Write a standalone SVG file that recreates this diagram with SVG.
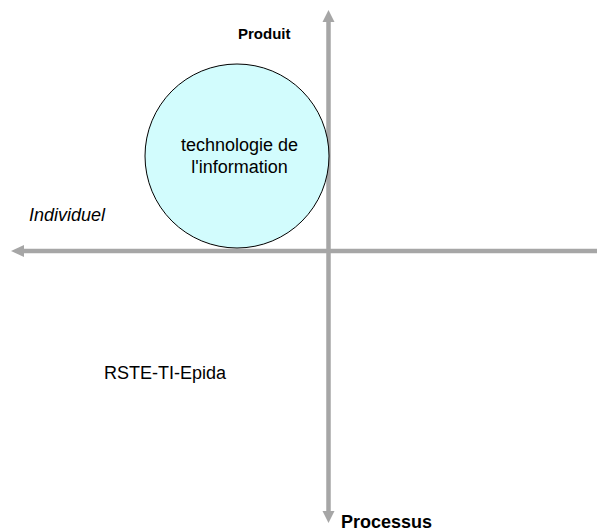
<svg xmlns="http://www.w3.org/2000/svg" width="597" height="532" viewBox="0 0 597 532">
<style>
.axis{stroke:#a6a6a6;stroke-width:4.5;fill:none}
.head{fill:#a6a6a6}
text{font-family:"Liberation Sans",Arial,sans-serif;fill:#000}
.b{font-weight:bold}
</style>
<rect width="597" height="532" fill="#fff"/>
<g id="connectors">
<line class="axis" x1="328.5" y1="20" x2="328.5" y2="512"/>
<polygon class="head" points="328.5,10 322.5,22 334.5,22"/>
<polygon class="head" points="328.5,523 322.5,511 334.5,511"/>
<line class="axis" x1="22" y1="251" x2="597" y2="251"/>
<polygon class="head" points="11,251 24,245 24,257"/>
</g>
<g id="node-ti">
<circle cx="237" cy="156" r="92" fill="#d2fcfd" stroke="#000" stroke-width="1"/>
<text x="239.5" y="151" font-size="18" text-anchor="middle">technologie de</text>
<text x="239.5" y="173" font-size="18" text-anchor="middle">l'information</text>
</g>
<g id="label-produit"><text class="b" x="238" y="39" font-size="15">Produit</text></g>
<g id="label-individuel"><text x="29" y="221" font-size="18" font-style="italic">Individuel</text></g>
<g id="label-rste"><text x="104" y="379" font-size="18">RSTE-TI-Epida</text></g>
<g id="label-processus"><text class="b" x="341" y="528" font-size="18">Processus</text></g>
</svg>
